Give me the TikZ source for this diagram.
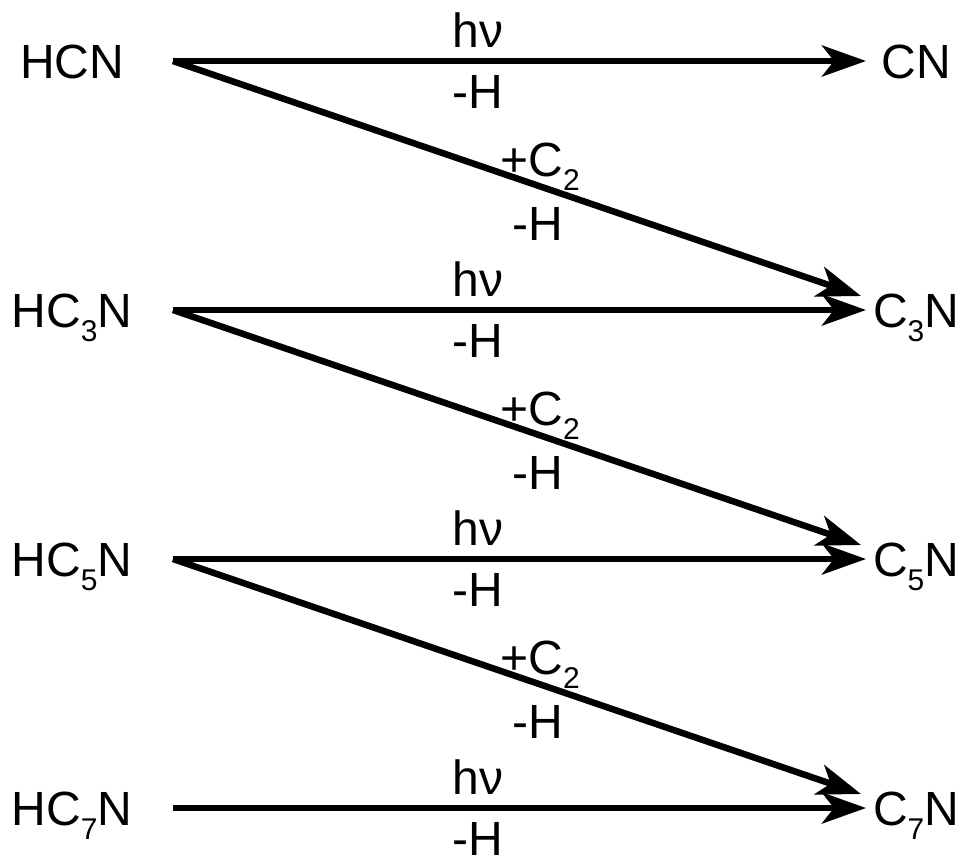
\documentclass[tikz,border=0pt]{standalone}
\usepackage{fontspec}
\setmainfont{Liberation Sans}
\usetikzlibrary{arrows.meta}
\newcommand{\sbs}[1]{\raisebox{-0.3em}{\fontsize{30}{30}\selectfont #1}}
\begin{document}
\begin{tikzpicture}[x=1pt,y=-1pt,
  chem/.style={anchor=base,inner sep=0pt,font=\fontsize{48}{50}\selectfont},
  lab/.style={anchor=base,inner sep=0pt,font=\fontsize{48}{50}\selectfont},
  rxn/.style={line width=6.5pt,-{Stealth[length=44pt,width=31pt,inset=12pt]}}]
\useasboundingbox (0,0) rectangle (964,865);
\foreach \i/\y in {1/61,2/310,3/559,4/808}{
  \coordinate (a\i) at (173,\y);
  \coordinate (b\i) at (866,\y);
  \node[lab] (hv\i) at (478,\y-14) {hν};
  \node[lab] (mh\i) at (478,\y+47) {-H};
}
\node[chem] (L1) at (72,78) {HCN};
\node[chem] (L2) at (72,327) {HC\sbs{3}N};
\node[chem] (L3) at (72,576) {HC\sbs{5}N};
\node[chem] (L4) at (72,825) {HC\sbs{7}N};
\node[chem] (R1) at (916,78) {CN};
\node[chem] (R2) at (916,327) {C\sbs{3}N};
\node[chem] (R3) at (916,576) {C\sbs{5}N};
\node[chem] (R4) at (916,825) {C\sbs{7}N};
\foreach \i in {1,2,3,4}{
  \draw[rxn] (a\i) -- (b\i);
}
\foreach \i/\y in {1/61,2/310,3/559}{
  \coordinate (d\i) at (861,\y+235);
  \node[lab] (pc\i) at (540,\y+115) {+C\sbs{2}};
  \node[lab] (dh\i) at (538,\y+179) {-H};
}
\draw[rxn] (a1) -- (d1);
\draw[rxn] (a2) -- (d2);
\draw[rxn] (a3) -- (d3);
\end{tikzpicture}
\end{document}
